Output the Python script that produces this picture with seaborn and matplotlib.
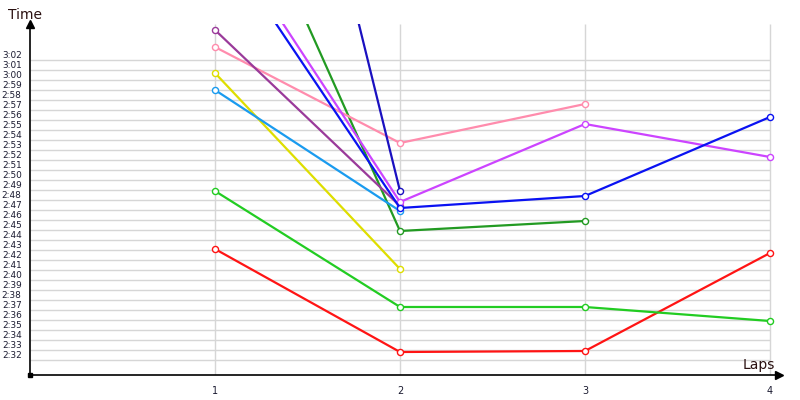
import numpy as np
import pandas as pd
import matplotlib
matplotlib.use("Agg")
import matplotlib.pyplot as plt
import matplotlib.transforms as mtransforms
import seaborn as sns

# Lap times in seconds, one list per driver
laps = [1, 2, 3, 4]
red = [163.1, 152.8, 152.9, 162.7]
green = [168.9, 157.3, 157.3, 155.9]
dark_green = [206.2, 164.9, 165.9]
yellow = [180.7, 161.1]
sky = [179.0, 166.9]
pink = [183.3, 173.7, 177.6]
purple = [185.0, 167.4]
magenta = [196.0, 167.8, 175.6, 172.3]
blue = [194.7, 167.2, 168.4, 176.3]
navy = [244.0, 168.9]

series = [
    ("red", red, "#ff1414"),
    ("green", green, "#22cc22"),
    ("dark green", dark_green, "#229a22"),
    ("yellow", yellow, "#dede00"),
    ("sky", sky, "#1a9bef"),
    ("pink", pink, "#ff8cad"),
    ("purple", purple, "#9a3a9a"),
    ("magenta", magenta, "#cc44ff"),
    ("blue", blue, "#0a12f2"),
    ("navy", navy, "#1a10c0"),
]

# y ticks every second from 2:32 to 3:02
tick_secs = list(range(152, 183))
tick_labels = [f"{s // 60}:{s % 60:02d}" for s in tick_secs]

sns.set_style("white")
fig = plt.figure(figsize=(8, 4), dpi=100)
ax = fig.add_axes([30 / 800, 1 - 375 / 400, 749 / 800, 351 / 400])

x_right = 4 + 9 / 185
y_top = 152 + 336 / 10
ax.set_xlim(0, x_right)
ax.set_ylim(150.5, y_top)

# grid
ax.hlines(tick_secs, 0, 4, color="#d6d6d6", lw=1, zorder=0)
ax.vlines(laps, 150.5, y_top, color="#d6d6d6", lw=1, zorder=0)

for name, vals, c in series:
    sns.lineplot(x=laps[:len(vals)], y=vals, color=c, lw=1.6, marker="o",
                 markersize=4.4, markerfacecolor="white", markeredgecolor=c,
                 markeredgewidth=1.0, ax=ax, zorder=3)

for side in ["top", "right"]:
    ax.spines[side].set_visible(False)
for side in ["left", "bottom"]:
    ax.spines[side].set_color("black")
    ax.spines[side].set_linewidth(1.2)

ax.set_yticks(tick_secs)
ax.set_yticklabels(tick_labels, fontsize=6.4, color="#1a1a30")
ax.set_xticks(laps)
ax.set_xticklabels([str(l) for l in laps], fontsize=7, color="#1a1a30")
ax.tick_params(axis="both", length=0)
ax.tick_params(axis="y", pad=6)
ax.tick_params(axis="x", pad=8)
shift = mtransforms.ScaledTranslation(0, 5 / 100, fig.dpi_scale_trans)
for lbl in ax.get_yticklabels():
    lbl.set_transform(lbl.get_transform() + shift)

ax.set_xlabel("")
ax.set_ylabel("")

# arrows and origin marker
ax.plot(0, 1, marker="^", color="black", markersize=6, transform=ax.transAxes, clip_on=False)
ax.plot(1, 0, marker=">", color="black", markersize=6, transform=ax.transAxes, clip_on=False)
ax.plot(0, 0, marker="s", color="black", markersize=3.5, transform=ax.transAxes, clip_on=False)

fig.text(8 / 800, 1 - 15 / 400, "Time", fontsize=10, color="#2a1010", va="center", ha="left")
fig.text(775 / 800, 1 - 365 / 400, "Laps", fontsize=10, color="#2a1010", va="center", ha="right")

fig.savefig("out.png", dpi=100)
